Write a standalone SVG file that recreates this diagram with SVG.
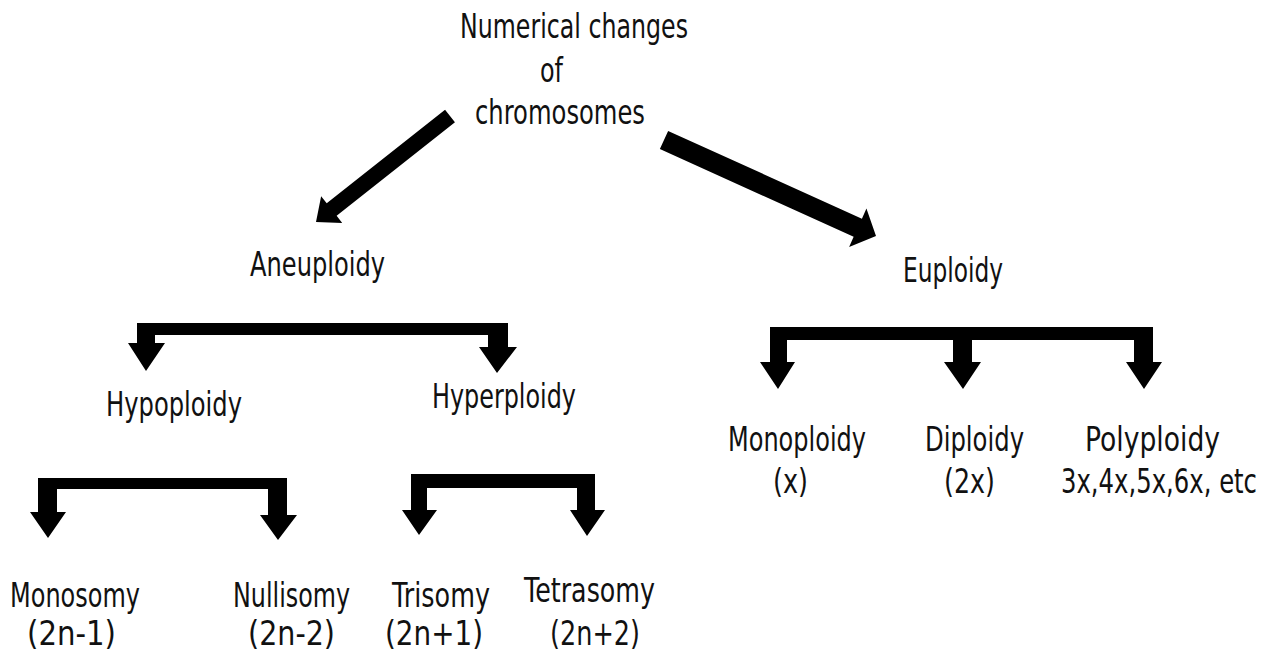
<svg xmlns="http://www.w3.org/2000/svg" width="1272" height="652" viewBox="0 0 1272 652">
<style>
text{font-family:"DejaVu Sans","Liberation Sans",sans-serif;font-size:33px;fill:#111;}
.a{fill:#000;}
</style>
<rect width="1272" height="652" fill="#fff"/>
<g id="connectors">
<polygon class="a" points="454.96,122.27 336.64,215.87 342.22,222.93 316,222 321.14,196.27 326.72,203.33 445.04,109.73"/>
<polygon class="a" points="668.13,130.89 861.91,218.64 866.44,208.62 876,236 849.12,246.88 853.65,236.86 659.87,149.11"/>
<g id="br-aneuploidy">
<rect class="a" x="146" y="323" width="352" height="12"/>
<polygon class="a" points="137,323 155,323 155,343 165,343 146,371 128,343 137,343"/>
<polygon class="a" points="488,323 508,323 508,347 517,347 497,373 479,347 488,347"/>
</g>
<g id="br-euploidy">
<rect class="a" x="778" y="327" width="366" height="13"/>
<polygon class="a" points="770,327 787,327 787,362 795,362 778,389 760,362 770,362"/>
<polygon class="a" points="953,327 972,327 972,362 981,362 963,389 944,362 953,362"/>
<polygon class="a" points="1134,327 1153,327 1153,362 1162,362 1144,389 1126,362 1134,362"/>
</g>
<g id="br-hypo">
<rect class="a" x="48" y="478" width="230" height="11"/>
<polygon class="a" points="38,478 57,478 57,512 66,512 48,538 30,512 38,512"/>
<polygon class="a" points="268,478 287,478 287,515 297,515 278,540 260,515 268,515"/>
</g>
<g id="br-hyper">
<rect class="a" x="419" y="474" width="168" height="14"/>
<polygon class="a" points="411,474 427,474 427,510 437,510 419,535 402,510 411,510"/>
<polygon class="a" points="577,474 595,474 595,510 605,510 587,536 570,510 577,510"/>
</g>
</g>
<g id="n-root">
<text x="460" y="38" textLength="228" lengthAdjust="spacingAndGlyphs">Numerical changes</text>
<text x="540" y="82" textLength="23" lengthAdjust="spacingAndGlyphs">of</text>
<text x="475" y="124" textLength="170" lengthAdjust="spacingAndGlyphs">chromosomes</text>
</g>
<g id="n-aneuploidy"><text x="250" y="276" textLength="135" lengthAdjust="spacingAndGlyphs">Aneuploidy</text></g>
<g id="n-euploidy"><text x="903" y="282" textLength="100" lengthAdjust="spacingAndGlyphs">Euploidy</text></g>
<g id="n-hypoploidy"><text x="106" y="416" textLength="136" lengthAdjust="spacingAndGlyphs">Hypoploidy</text></g>
<g id="n-hyperploidy"><text x="432" y="408" textLength="144" lengthAdjust="spacingAndGlyphs">Hyperploidy</text></g>
<g id="n-monoploidy">
<text x="728" y="451" textLength="138" lengthAdjust="spacingAndGlyphs">Monoploidy</text>
<text x="773" y="493" textLength="35" lengthAdjust="spacingAndGlyphs">(x)</text>
</g>
<g id="n-diploidy">
<text x="925" y="451" textLength="99" lengthAdjust="spacingAndGlyphs">Diploidy</text>
<text x="944" y="493" textLength="51" lengthAdjust="spacingAndGlyphs">(2x)</text>
</g>
<g id="n-polyploidy">
<text x="1085" y="451" textLength="135" lengthAdjust="spacingAndGlyphs">Polyploidy</text>
<text transform="translate(1061,493) scale(0.7,1)" x="0" y="0" textLength="280" lengthAdjust="spacingAndGlyphs">3x,4x,5x,6x, etc</text>
</g>
<g id="n-monosomy">
<text x="10" y="607" textLength="130" lengthAdjust="spacingAndGlyphs">Monosomy</text>
<text x="27" y="645" textLength="89" lengthAdjust="spacingAndGlyphs">(2n-1)</text>
</g>
<g id="n-nullisomy">
<text x="233" y="607" textLength="117" lengthAdjust="spacingAndGlyphs">Nullisomy</text>
<text x="248" y="645" textLength="87" lengthAdjust="spacingAndGlyphs">(2n-2)</text>
</g>
<g id="n-trisomy">
<text x="392" y="607" textLength="98" lengthAdjust="spacingAndGlyphs">Trisomy</text>
<text x="385" y="645" textLength="98" lengthAdjust="spacingAndGlyphs">(2n+1)</text>
</g>
<g id="n-tetrasomy">
<text x="524" y="602" textLength="131" lengthAdjust="spacingAndGlyphs">Tetrasomy</text>
<text x="550" y="645" textLength="90" lengthAdjust="spacingAndGlyphs">(2n+2)</text>
</g>
</svg>
